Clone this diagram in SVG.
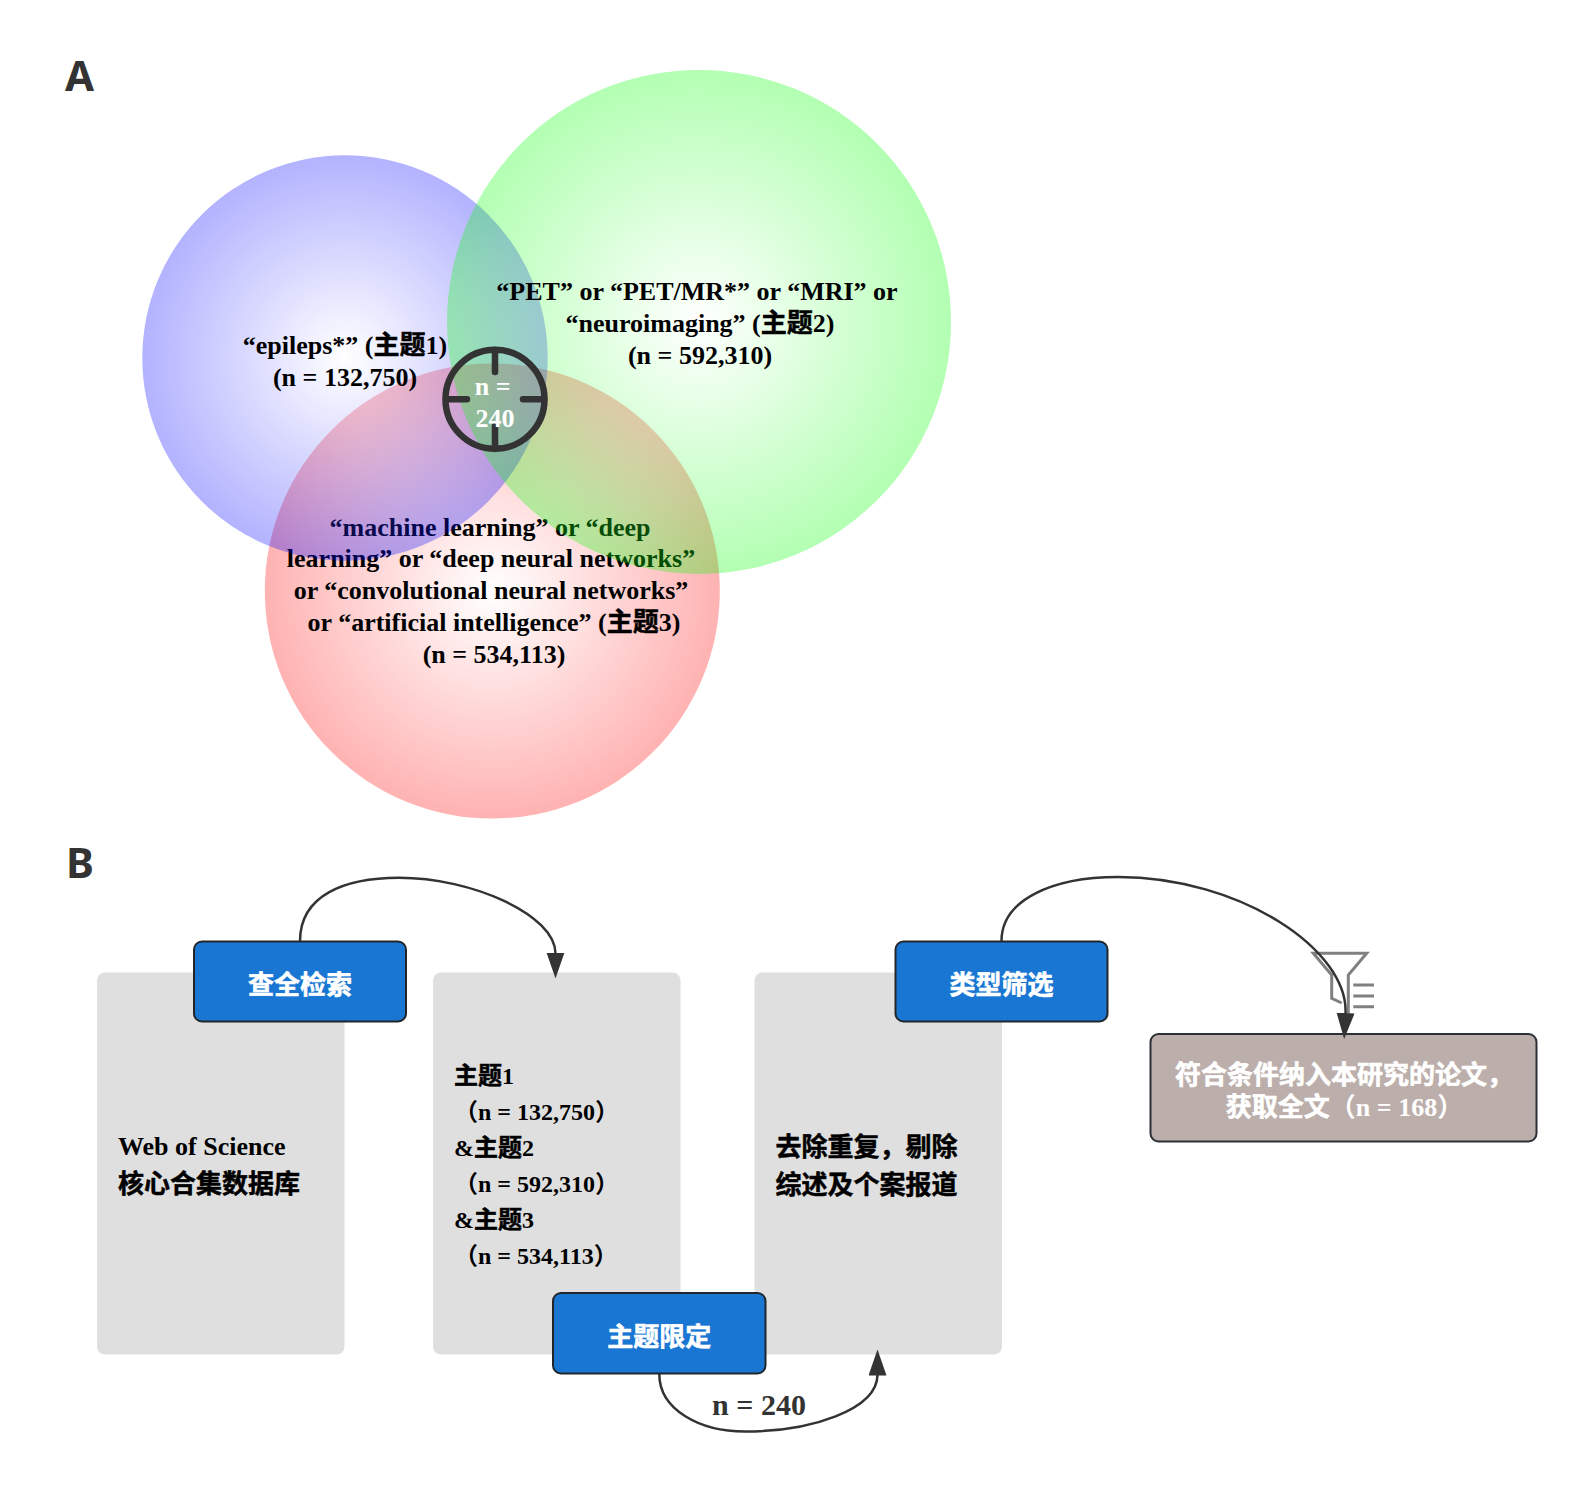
<svg xmlns="http://www.w3.org/2000/svg" width="1586" height="1511" viewBox="0 0 1586 1511">
<style>
text{font-family:"Liberation Serif","Noto Sans CJK SC",serif;font-weight:700;font-size:26px;fill:#000}
.c{text-anchor:middle}
.head{font-family:"Noto Sans","Noto Sans CJK SC",sans-serif;font-size:42px;fill:#333}
.w{fill:#fff}
.k{stroke:#000;stroke-width:.5}
.kw{stroke:#fff;stroke-width:.6}
.s{font-size:24px}
.panel{fill:#dfdfdf}
.step{fill:#1976d2;stroke:#22262b;stroke-width:2}
.venn{opacity:.3}
.link{fill:none;stroke:#333;stroke-width:2.5}
.ch{fill:none;stroke:#333;stroke-width:6.5;stroke-linecap:round}
.fn{fill:none;stroke:#808080;stroke-width:3}
</style>
<defs>
<radialGradient id="gb"><stop offset="0" stop-color="#fff"/><stop offset="1" stop-color="#00f"/></radialGradient>
<radialGradient id="gg"><stop offset="0" stop-color="#fff"/><stop offset="1" stop-color="#0f0"/></radialGradient>
<radialGradient id="gr"><stop offset="0" stop-color="#fff"/><stop offset="1" stop-color="#f00"/></radialGradient>
<marker id="arr" markerUnits="userSpaceOnUse" markerWidth="28" markerHeight="20" refX="1" refY="9" orient="auto"><path d="M0,0L26,9L0,18Z" fill="#333"/></marker>
</defs>
<rect width="1586" height="1511" fill="#fff"/>
<g id="label-a"><text class="head" x="65" y="91">A</text></g>
<g id="label-b"><text class="head" x="66" y="877.5">B</text></g>
<g id="venn-topic3">
<circle class="venn" cx="492.3" cy="591" r="227.5" fill="url(#gr)"/>
<text class="c" x="490" y="535.5">“machine learning” or “deep</text>
<text class="c" x="491" y="567">learning” or “deep neural networks”</text>
<text class="c" x="491" y="599">or “convolutional neural networks”</text>
<text class="c" x="494" y="630.5">or “artificial intelligence” (<tspan class="k">主题</tspan>3)</text>
<text class="c" x="494" y="663">(n = 534,113)</text>
</g>
<g id="venn-topic1">
<circle class="venn" cx="345" cy="358" r="202.7" fill="url(#gb)"/>
<text class="c" x="345" y="354">“epileps*” (<tspan class="k">主题</tspan>1)</text>
<text class="c" x="345" y="386">(n = 132,750)</text>
</g>
<g id="venn-topic2">
<circle class="venn" cx="699" cy="321.9" r="252" fill="url(#gg)"/>
<text class="c" x="697" y="300">“PET” or “PET/MR*” or “MRI” or</text>
<text class="c" x="700" y="332">“neuroimaging” (<tspan class="k">主题</tspan>2)</text>
<text class="c" x="700" y="364">(n = 592,310)</text>
</g>
<g id="venn-target">
<circle class="ch" cx="495" cy="399.3" r="49.5"/>
<path class="ch" d="M495,350V372M495,426V449M446,399.3H467M523,399.3H544"/>
<text class="c w" x="492.7" y="395">n =</text>
<text class="c w" x="495" y="426.5">240</text>
</g>
<g id="panel-wos">
<rect class="panel" x="97" y="972.5" width="247.5" height="382" rx="8"/>
<text x="118" y="1154.5">Web of Science</text>
<text class="k" x="118" y="1193">核心合集数据库</text>
</g>
<g id="panel-topics">
<rect class="panel" x="433" y="972.5" width="247.5" height="382" rx="8"/>
<text class="s" x="454" y="1083.5"><tspan class="k">主题</tspan>1</text>
<text class="s" x="454" y="1119.5">（n = 132,750）</text>
<text class="s" x="454" y="1155.5">&amp;<tspan class="k">主题</tspan>2</text>
<text class="s" x="454" y="1191.5">（n = 592,310）</text>
<text class="s" x="454" y="1227.5">&amp;<tspan class="k">主题</tspan>3</text>
<text class="s" x="454" y="1263.5">（n = 534,113）</text>
</g>
<g id="panel-filter">
<rect class="panel" x="754.5" y="972.5" width="247.5" height="382" rx="8"/>
<text class="k" x="775.5" y="1155.5">去除重复，剔除</text>
<text class="k" x="775.5" y="1193.5">综述及个案报道</text>
</g>
<g id="funnel">
<path class="fn" d="M1348.3,1013V975L1366.7,953.3H1313.3L1331.7,975V998.3L1341.7,1003"/>
<path class="fn" d="M1353.3,985H1374M1353.3,996H1374M1353.3,1006.7H1374"/>
</g>
<g id="step-search">
<rect class="step" x="194" y="941.5" width="212" height="80" rx="8"/>
<text class="c w kw" x="300" y="994">查全检索</text>
</g>
<g id="step-type">
<rect class="step" x="895.5" y="941.5" width="212" height="80" rx="8"/>
<text class="c w kw" x="1001.5" y="994">类型筛选</text>
</g>
<g id="step-topic">
<rect class="step" x="553" y="1293" width="212.5" height="80.5" rx="8"/>
<text class="c w kw" x="659.3" y="1346">主题限定</text>
</g>
<g id="result">
<rect x="1150.5" y="1034" width="386" height="107.5" rx="8" fill="#bcafab" stroke="#2b3036" stroke-width="2"/>
<text class="c w" x="1344" y="1083.5"><tspan class="kw">符合条件纳入本研究的论文，</tspan></text>
<text class="c w" x="1344.5" y="1116"><tspan class="kw">获取全文</tspan>（n = 168）</text>
</g>
<g id="connectors">
<path class="link" marker-end="url(#arr)" d="M300,941C300,895 345,877.7 399,877.7C472,877.7 555.5,915 555.5,953.5"/>
<path class="link" marker-end="url(#arr)" d="M1001.5,941C1001.5,900 1052,877 1118,877C1240,877 1349,950 1345.5,1014"/>
<path class="link" marker-end="url(#arr)" d="M659.3,1374C659.3,1410 700,1431.5 745,1431.5C810,1431.5 877.5,1410 877.5,1374.5"/>
</g>
<g id="count"><text class="c" x="759" y="1415" style="font-size:30px;fill:#333">n = 240</text></g>
</svg>
